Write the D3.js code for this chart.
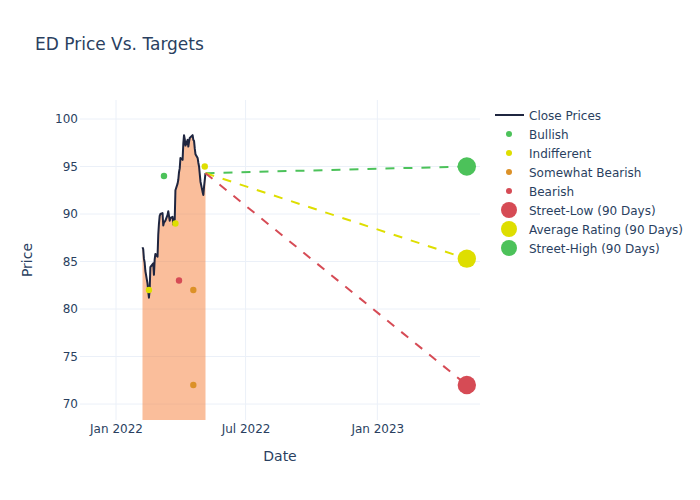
<!DOCTYPE html>
<html>
<head>
<meta charset="utf-8">
<script src="https://cdn.jsdelivr.net/npm/d3@7"></script>
<style>
  html, body { margin: 0; padding: 0; background: #fff; }
  svg { display: block; font-family: "DejaVu Sans", Verdana, sans-serif; }
</style>
</head>
<body>
<svg id="chart" width="700" height="500"></svg>
<script>
// ---------- DATA ----------
const closeDates = [
  "2022-02-07","2022-02-08","2022-02-09","2022-02-10","2022-02-11",
  "2022-02-14","2022-02-15","2022-02-16","2022-02-17","2022-02-18",
  "2022-02-22","2022-02-23","2022-02-24","2022-02-25","2022-02-28",
  "2022-03-01","2022-03-02","2022-03-03","2022-03-04",
  "2022-03-07","2022-03-08","2022-03-09","2022-03-10","2022-03-11",
  "2022-03-14","2022-03-15","2022-03-16","2022-03-17","2022-03-18",
  "2022-03-21","2022-03-22","2022-03-23","2022-03-24","2022-03-25",
  "2022-03-28","2022-03-29","2022-03-30","2022-03-31","2022-04-01",
  "2022-04-04","2022-04-05","2022-04-06","2022-04-07","2022-04-08",
  "2022-04-11","2022-04-12","2022-04-13","2022-04-14",
  "2022-04-18","2022-04-19","2022-04-20","2022-04-21","2022-04-22",
  "2022-04-25","2022-04-26","2022-04-27","2022-04-28","2022-04-29",
  "2022-05-02","2022-05-03","2022-05-04","2022-05-05","2022-05-06"
];
const closeValues = [
  86.5, 86.3, 85.3, 84.9, 84.0,
  82.7, 81.9, 81.2, 82.0, 84.4,
  84.8, 83.6, 85.2, 85.8, 85.5,
  87.8, 89.0, 89.8, 90.0,
  90.1, 88.8, 89.1, 89.2, 89.3,
  89.9, 90.3, 89.8, 89.3, 89.6,
  89.7, 88.9, 89.3, 89.4, 92.5,
  93.2, 93.6, 94.4, 94.8, 95.9,
  95.7, 97.4, 98.3, 97.9, 97.2,
  97.8, 97.1, 97.6, 98.0,
  98.3, 97.8, 97.7, 96.9, 96.3,
  95.9, 95.4, 95.0, 94.2, 93.4,
  92.3, 92.0, 92.9, 93.6, 94.3
];

const bullishDates = ["2022-03-09"];
const bullishValues = [94];
const indifferentDates = ["2022-02-16", "2022-03-25", "2022-05-05"];
const indifferentValues = [82, 89, 95];
const somewhatBearishDates = ["2022-04-19", "2022-04-19"];
const somewhatBearishValues = [82, 72];
const bearishDates = ["2022-03-30"];
const bearishValues = [83];

const targetDate = "2023-05-06";
const streetLow = 72;
const averageRating = 85.3;
const streetHigh = 95;

const yTicks = [70, 75, 80, 85, 90, 95, 100];
const xTickDates = ["2022-01-01", "2022-07-01", "2023-01-01"];
const xTickLabels = ["Jan 2022", "Jul 2022", "Jan 2023"];

const legendLabels = ["Close Prices", "Bullish", "Indifferent", "Somewhat Bearish", "Bearish",
  "Street-Low (90 Days)", "Average Rating (90 Days)", "Street-High (90 Days)"];

// ---------- STYLE ----------
const C = {
  text: "#2a3f5f",
  grid: "#ebf0f8",
  line: "#1f2640",
  fill: "rgba(245,125,55,0.5)",
  green: "#4cc25a",
  yellow: "#dede00",
  orange: "#dc9128",
  red: "#d64b55"
};

const parse = d3.utcParse("%Y-%m-%d");
const svg = d3.select("#chart");
const M = { l: 80, t: 100, r: 220, b: 80 };
const W = 700, H = 500;
const pw = W - M.l - M.r, ph = H - M.t - M.b;

const x = d3.scaleUtc()
  .domain([new Date(Date.UTC(2021, 10, 11, 17)), new Date(Date.UTC(2023, 4, 24, 10))])
  .range([M.l, M.l + pw]);
const y = d3.scaleLinear().domain([68.32, 102.0]).range([M.t + ph, M.t]);

// clip
svg.append("defs").append("clipPath").attr("id", "clip")
  .append("rect").attr("x", M.l).attr("y", M.t).attr("width", pw).attr("height", ph);

// title
svg.append("text").attr("x", 35).attr("y", 50)
  .attr("font-size", 17).attr("fill", C.text).text("ED Price Vs. Targets");

// grid
const grid = svg.append("g");
grid.selectAll(".gy").data(yTicks).join("line")
  .attr("x1", M.l).attr("x2", M.l + pw)
  .attr("y1", d => y(d)).attr("y2", d => y(d))
  .attr("stroke", C.grid).attr("stroke-width", 1);
grid.selectAll(".gx").data(xTickDates).join("line")
  .attr("x1", d => x(parse(d))).attr("x2", d => x(parse(d)))
  .attr("y1", M.t).attr("y2", M.t + ph)
  .attr("stroke", C.grid).attr("stroke-width", 1);

// axes
const yAxis = d3.axisLeft(y).tickValues(yTicks).tickSize(0).tickPadding(2);
const gy = svg.append("g").attr("transform", `translate(${M.l},0)`).call(yAxis);
gy.select(".domain").remove();
gy.selectAll("text").attr("font-size", 12).attr("fill", C.text)
  .attr("font-family", "DejaVu Sans, sans-serif");

const xAxis = d3.axisBottom(x).tickValues(xTickDates.map(parse))
  .tickFormat((d, i) => xTickLabels[i]).tickSize(0).tickPadding(4);
const gx = svg.append("g").attr("transform", `translate(0,${M.t + ph})`).call(xAxis);
gx.select(".domain").remove();
gx.selectAll("text").attr("font-size", 12).attr("fill", C.text)
  .attr("font-family", "DejaVu Sans, sans-serif");

// axis titles
svg.append("text").attr("x", M.l + pw / 2).attr("y", 461).attr("text-anchor", "middle")
  .attr("font-size", 14).attr("fill", C.text).text("Date");
svg.append("text").attr("transform", `translate(32,${M.t + ph / 2}) rotate(-90)`)
  .attr("text-anchor", "middle").attr("font-size", 14).attr("fill", C.text).text("Price");

// plot
const plot = svg.append("g").attr("clip-path", "url(#clip)");
const closeData = closeDates.map((d, i) => ({ d: parse(d), v: closeValues[i] }));

plot.append("path").datum(closeData)
  .attr("d", d3.area().x(p => x(p.d)).y0(y(0)).y1(p => y(p.v)))
  .attr("fill", C.fill).attr("stroke", "none");

plot.append("path").datum(closeData)
  .attr("d", d3.line().x(p => x(p.d)).y(p => y(p.v)))
  .attr("fill", "none").attr("stroke", C.line).attr("stroke-width", 2)
  .attr("stroke-linejoin", "round");

// dashed projection lines
const last = closeData[closeData.length - 1];
const tDate = parse(targetDate);
const targets = [
  { v: streetHigh, c: C.green },
  { v: averageRating, c: C.yellow },
  { v: streetLow, c: C.red }
];
plot.selectAll(".proj").data(targets).join("line")
  .attr("x1", x(last.d)).attr("y1", y(last.v))
  .attr("x2", x(tDate)).attr("y2", d => y(d.v))
  .attr("stroke", d => d.c).attr("stroke-width", 2).attr("stroke-dasharray", "9,9");

// rating dots
function dots(dates, values, color) {
  plot.append("g").selectAll("circle").data(dates.map((d, i) => ({ d: parse(d), v: values[i] })))
    .join("circle").attr("cx", p => x(p.d)).attr("cy", p => y(p.v)).attr("r", 3.2)
    .attr("fill", color);
}
dots(bullishDates, bullishValues, C.green);
dots(indifferentDates, indifferentValues, C.yellow);
dots(somewhatBearishDates, somewhatBearishValues, C.orange);
dots(bearishDates, bearishValues, C.red);

// target circles
const bigT = [
  { v: streetLow, c: C.red },
  { v: averageRating, c: C.yellow },
  { v: streetHigh, c: C.green }
];
plot.selectAll(".big").data(bigT).join("circle")
  .attr("cx", x(tDate)).attr("cy", d => y(d.v)).attr("r", 9.2).attr("fill", d => d.c);

// legend
const legendColors = [C.line, C.green, C.yellow, C.orange, C.red, C.red, C.yellow, C.green];
const lg = svg.append("g");
legendLabels.forEach((lab, i) => {
  const cy = 115 + i * 19;
  if (i === 0) {
    lg.append("line").attr("x1", 495).attr("x2", 524).attr("y1", cy).attr("y2", cy)
      .attr("stroke", legendColors[i]).attr("stroke-width", 2);
  } else {
    lg.append("circle").attr("cx", 509).attr("cy", cy).attr("r", i >= 5 ? 8 : 3)
      .attr("fill", legendColors[i]);
  }
  lg.append("text").attr("x", 529).attr("y", cy + 4.5).attr("font-size", 12)
    .attr("fill", C.text).text(lab);
});
</script>
</body>
</html>
